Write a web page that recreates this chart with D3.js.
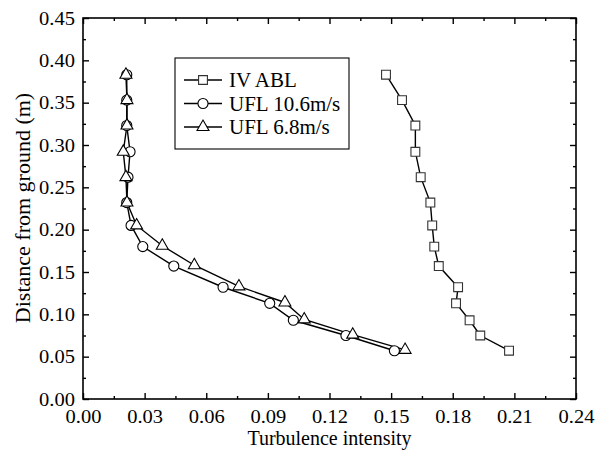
<!DOCTYPE html>
<html>
<head>
	<meta charset="UTF-8" />
	<title>turbulence intensity profile</title>
	<script src="https://d3js.org/d3.v7.min.js"></script>
	<style>
		body { margin: 0; background: #fff; }
		text { font-family: "Liberation Serif", "Times New Roman", serif; fill: #000; }
	</style>
</head>
<body>
	<svg id="chart" width="603" height="454"></svg>

	<script type="text/javascript">
	// data
	var heightsABL = [0.383, 0.353, 0.323, 0.292, 0.262, 0.232, 0.205, 0.180, 0.157, 0.132, 0.113, 0.093, 0.075, 0.057]
	var intensABL  = [0.1475, 0.1553, 0.1618, 0.1618, 0.1644, 0.1691, 0.1700, 0.1710, 0.1732, 0.1826, 0.1816, 0.1882, 0.1934, 0.2074]

	var heights106 = [0.383, 0.353, 0.323, 0.292, 0.262, 0.232, 0.205, 0.180, 0.157, 0.132, 0.113, 0.093, 0.075, 0.057]
	var intens106  = [0.0213, 0.0213, 0.0213, 0.0229, 0.0219, 0.0213, 0.0234, 0.0291, 0.0442, 0.0682, 0.0909, 0.1024, 0.1280, 0.1516]

	var heights68 = [0.383, 0.353, 0.323, 0.292, 0.262, 0.232, 0.205, 0.181, 0.158, 0.133, 0.114, 0.094, 0.076, 0.058]
	var intens68  = [0.0209, 0.0214, 0.0214, 0.0196, 0.0209, 0.0214, 0.0261, 0.0386, 0.0542, 0.0759, 0.0983, 0.1077, 0.1313, 0.1568]

	var xTicks = [0, 0.03, 0.06, 0.09, 0.12, 0.15, 0.18, 0.21, 0.24]
	var yTicks = [0, 0.05, 0.10, 0.15, 0.20, 0.25, 0.30, 0.35, 0.40, 0.45]
	var seriesNames = ["IV ABL", "UFL 10.6m/s", "UFL 6.8m/s"]
	var xTitle = "Turbulence intensity"
	var yTitle = "Distance from ground (m)"
	//

	var svg = d3.select("#chart")
	var L = 83, R = 576, T = 18, B = 399
	var stretch = 1.08   // tick labels in the original are a bit wider than Times

	var xScale = d3.scaleLinear().domain([0, 0.24]).range([L, R])
	var yScale = d3.scaleLinear().domain([0, 0.45]).range([B, T])

	// minor ticks halfway between majors
	var xMinor = xTicks.slice(1).map((d, i) => (d + xTicks[i]) / 2)
	var yMinor = yTicks.slice(1).map((d, i) => (d + yTicks[i]) / 2)
	var fmt = d3.format(".2f")

	function drawAxis(axisFn, scale, pos, majors, minors, pad) {
		var g = svg.append("g").attr("transform", pos)
		var major = g.append("g").call(axisFn(scale).tickValues(majors).tickSize(-6).tickPadding(pad || 0).tickFormat(fmt))
		var minor = g.append("g").call(axisFn(scale).tickValues(minors).tickSize(-3).tickFormat(""))
		g.selectAll(".domain").remove()
		minor.selectAll("text").remove()              // minor ticks carry no label
		if (!pad) major.selectAll("text").remove()    // mirrored axes carry no label
		g.selectAll("line").attr("stroke", "#000").attr("stroke-width", 1.4)
		major.selectAll("text")
			.style("font-size", "19px")
			.attr("x", function() { return +d3.select(this).attr("x") / stretch })
			.attr("transform", `scale(${stretch},1)`)
		return g
	}
	drawAxis(d3.axisBottom, xScale, `translate(0,${B})`, xTicks, xMinor, 11)
	drawAxis(d3.axisTop, xScale, `translate(0,${T})`, xTicks, xMinor, 0)
	drawAxis(d3.axisLeft, yScale, `translate(${L},0)`, yTicks, yMinor, 8)
	drawAxis(d3.axisRight, yScale, `translate(${R},0)`, yTicks, yMinor, 0)

	svg.append("rect")
		.attr("x", L).attr("y", T)
		.attr("width", R - L).attr("height", B - T)
		.attr("fill", "none").attr("stroke", "#000").attr("stroke-width", 1.6)

	// titles
	svg.append("text")
		.attr("x", (L + R) / 2).attr("y", 445)
		.attr("text-anchor", "middle").style("font-size", "20px")
		.text(xTitle)
	svg.append("text")
		.attr("transform", "translate(30,208) rotate(-90)")
		.attr("text-anchor", "middle").style("font-size", "22px")
		.text(yTitle)

	// markers
	var symSquare = d3.symbol().type(d3.symbolSquare).size(78)
	var symCircle = d3.symbol().type(d3.symbolCircle).size(80)
	var symTri = d3.symbol().type(d3.symbolTriangle).size(62)
	var symbols = [symSquare, symCircle, symTri]
	var strokes = ["#333", "#000", "#000"]

	var series = [
		intensABL.map((v, i) => [v, heightsABL[i]]),
		intens106.map((v, i) => [v, heights106[i]]),
		intens68.map((v, i) => [v, heights68[i]])
	]

	var line = d3.line().x(d => xScale(d[0])).y(d => yScale(d[1]))

	series.forEach(pts => {
		svg.append("path")
			.attr("d", line(pts))
			.attr("fill", "none")
			.attr("stroke", "#000")
			.attr("stroke-width", 1.4)
	})
	series.forEach((pts, k) => {
		svg.append("g").selectAll("path")
			.data(pts).join("path")
			.attr("d", symbols[k]())
			.attr("transform", d => `translate(${xScale(d[0])},${yScale(d[1])})`)
			.attr("fill", "#fff")
			.attr("stroke", strokes[k])
			.attr("stroke-width", 1.1)
	})

	// legend
	var lg = svg.append("g")
	lg.append("rect")
		.attr("x", 175).attr("y", 58).attr("width", 174).attr("height", 91)
		.attr("fill", "#fff").attr("stroke", "#000").attr("stroke-width", 1.1)
	seriesNames.forEach((name, k) => {
		var ly = 80 + k * 23.5
		lg.append("line").attr("x1", 184).attr("x2", 222).attr("y1", ly).attr("y2", ly)
			.attr("stroke", "#000").attr("stroke-width", 1.4)
		lg.append("path").attr("d", symbols[k]())
			.attr("transform", `translate(203,${ly})`)
			.attr("fill", "#fff").attr("stroke", strokes[k]).attr("stroke-width", 1.1)
		lg.append("text").attr("x", 229).attr("y", ly).attr("dy", "0.35em")
			.style("font-size", "21px").text(name)
	})
	</script>
</body>
</html>
